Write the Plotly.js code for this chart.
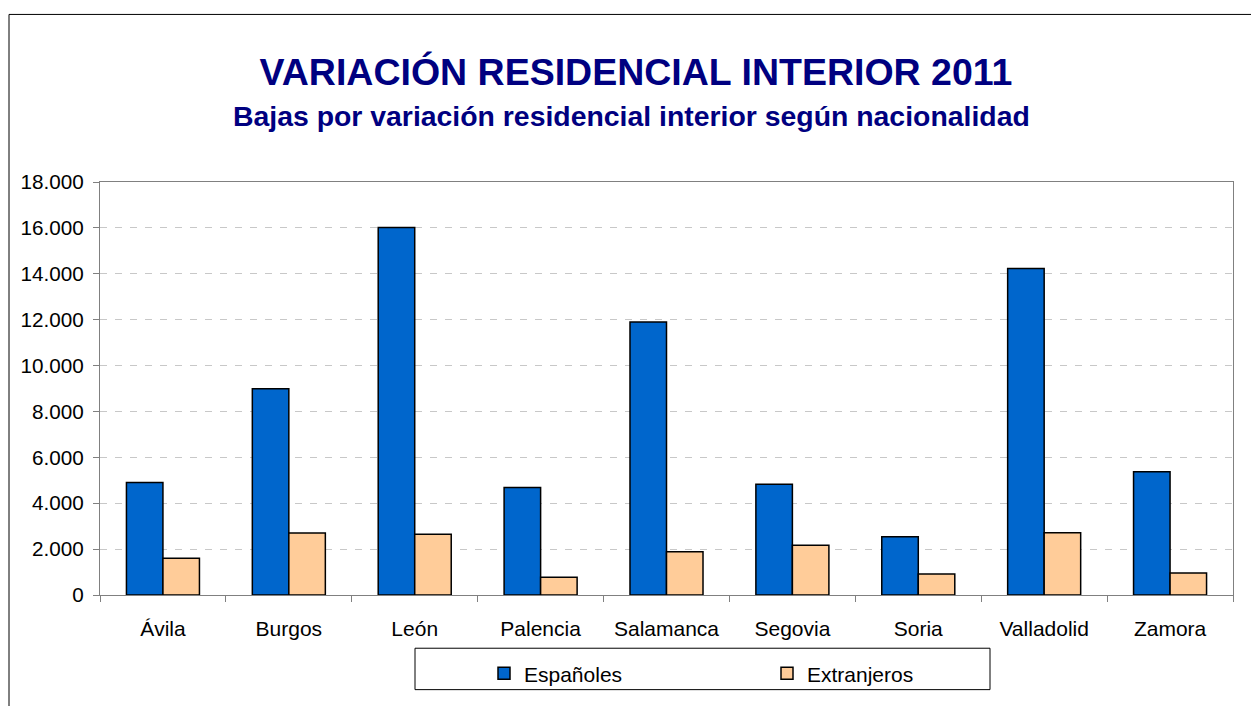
<!DOCTYPE html>
<html>
<head>
<meta charset="utf-8">
<script src="https://cdn.plot.ly/plotly-3.0.1.min.js"></script>
<style>html,body{margin:0;padding:0;background:#fff;}#chart{width:1251px;height:706px;}</style>
</head>
<body>
<div id="chart"></div>
<script>
const provincias = ["Ávila","Burgos","León","Palencia","Salamanca","Segovia","Soria","Valladolid","Zamora"];
const espanoles = [4900, 8990, 16020, 4690, 11895, 4830, 2540, 14230, 5375];
const extranjeros = [1600, 2700, 2650, 775, 1880, 2165, 915, 2710, 960];
const yTicks = [0,2000,4000,6000,8000,10000,12000,14000,16000,18000];

const FONT = "Liberation Sans, Arial, sans-serif";
const L = 100, R = 18, T = 182, B = 105, W = 1251, H = 706;
const pw = W - L - R, ph = H - T - B;
const px = v => (v - L) / pw;
const py = v => (H - B - v) / ph;

const traces = [
  {type:"bar", name:"Españoles", x:provincias, y:espanoles,
   marker:{color:"#0066CC", line:{color:"#000000", width:1.5}}},
  {type:"bar", name:"Extranjeros", x:provincias, y:extranjeros,
   marker:{color:"#FFCC99", line:{color:"#000000", width:1.5}}}
];

const layout = {
  width: W, height: H,
  margin:{l:L, r:R, t:T, b:B, pad:0},
  paper_bgcolor:"#ffffff", plot_bgcolor:"#ffffff",
  separators: ",.",
  barmode:"group", bargap:0.42, bargroupgap:0,
  font:{family:FONT, color:"#000000", size:21},
  title:{text:"VARIACIÓN RESIDENCIAL INTERIOR 2011", font:{family:FONT, size:37.5, color:"#000080", weight:"bold"},
         x:636/W, xanchor:"center", y:1-72/H, yanchor:"middle", xref:"container", yref:"container"},
  annotations:[{text:"Bajas por variación residencial interior según nacionalidad", showarrow:false,
    xref:"paper", yref:"paper", x:px(631), y:py(115), xanchor:"center", yanchor:"middle",
    font:{family:FONT, size:28.4, color:"#000080", weight:"bold"}}],
  xaxis:{type:"category", showline:true, linecolor:"#808080", linewidth:1, mirror:true,
         ticks:"outside", tickson:"boundaries", ticklen:6, tickcolor:"#808080",
         tickfont:{family:FONT, size:21}, ticklabelstandoff:15, showgrid:false, zeroline:false},
  yaxis:{range:[0,18000], tickvals:yTicks, tickformat:",d", showline:true, linecolor:"#808080", linewidth:1, mirror:true,
         ticks:"outside", ticklen:6, tickcolor:"#808080", tickfont:{family:FONT, size:20.7}, ticklabelstandoff:5,
         showgrid:true, gridcolor:"#c8c8c8", gridwidth:1, griddash:"7px,8px", zeroline:false},
  showlegend:true,
  legend:{orientation:"h", x:px(484), y:py(660), xanchor:"left", yanchor:"top",
          entrywidth:238, entrywidthmode:"pixels", borderwidth:0, bgcolor:"rgba(0,0,0,0)",
          font:{family:FONT, size:21}, traceorder:"normal"},
  shapes:[
    {type:"rect", xref:"paper", yref:"paper", x0:px(9), x1:1.2, y0:-0.5, y1:py(12),
     line:{color:"#000000", width:1}, fillcolor:"rgba(0,0,0,0)", layer:"below"},
    {type:"rect", xref:"paper", yref:"paper", x0:px(415), x1:px(990), y0:py(697), y1:py(655),
     line:{color:"#000000", width:1}, fillcolor:"rgba(0,0,0,0)"}
  ]
};

Plotly.newPlot("chart", traces, layout, {displayModeBar:false, staticPlot:true});
</script>
</body>
</html>
